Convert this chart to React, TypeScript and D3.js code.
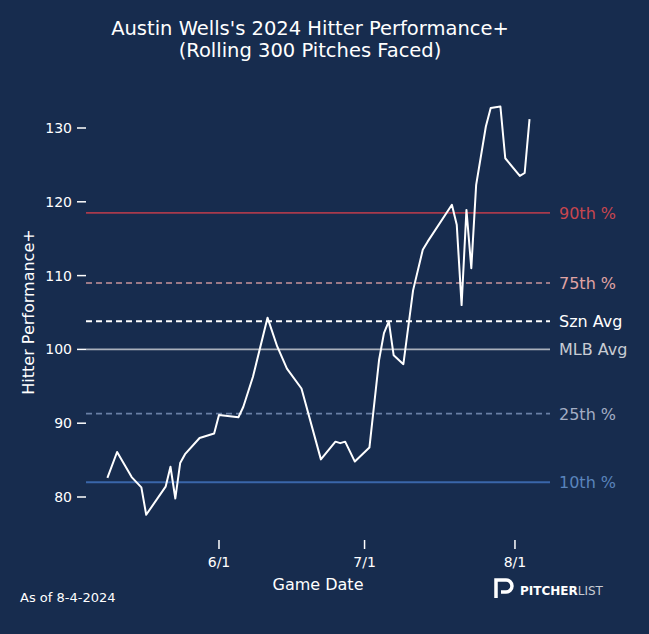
import React from "react";
import * as d3 from "d3";

// rolling values
const gameDates = [
  "2024-05-09", "2024-05-11", "2024-05-14", "2024-05-16", "2024-05-17", "2024-05-21",
  "2024-05-22", "2024-05-23", "2024-05-24", "2024-05-25", "2024-05-28", "2024-05-31",
  "2024-06-01", "2024-06-05", "2024-06-06", "2024-06-08", "2024-06-11", "2024-06-13",
  "2024-06-15", "2024-06-18", "2024-06-22", "2024-06-25", "2024-06-26", "2024-06-27",
  "2024-06-29", "2024-07-02", "2024-07-04", "2024-07-05", "2024-07-06", "2024-07-07",
  "2024-07-09", "2024-07-11", "2024-07-13", "2024-07-14", "2024-07-19", "2024-07-20",
  "2024-07-21", "2024-07-22", "2024-07-23", "2024-07-24", "2024-07-26", "2024-07-27",
  "2024-07-29", "2024-07-30", "2024-08-02", "2024-08-03", "2024-08-04",
];
const hitterPerf = [
  82.6, 86.1, 82.7, 81.3, 77.6, 81.4,
  84.1, 79.8, 84.6, 85.8, 88.0, 88.6,
  91.1, 90.8, 92.2, 96.3, 104.3, 100.4,
  97.4, 94.7, 85.1, 87.5, 87.3, 87.5,
  84.8, 86.7, 98.6, 102.2, 103.8, 99.2,
  98.0, 108.0, 113.5, 114.6, 119.6, 116.9,
  106.0, 118.9, 111.0, 122.3, 130.2, 132.7,
  132.9, 125.9, 123.5, 123.9, 131.2,
];

const refLabels = ["90th %", "75th %", "Szn Avg", "MLB Avg", "25th %", "10th %"];
const refValues = [118.5, 109.0, 103.8, 100.0, 91.3, 82.0];
const refStroke = ["#a83a4c", "#9c7a88", "#ffffff", "#aab0bb", "#6a80a6", "#3a66aa"];
const refText = ["#c8464f", "#e0a4a4", "#ffffff", "#c8ccd4", "#a4aec4", "#5a84bc"];
const refDash = ["", "6,4", "6,4", "", "6,4", ""];

const yTicks = [80, 90, 100, 110, 120, 130];
const xTicks = ["2024-06-01", "2024-07-01", "2024-08-01"];
const xTickLabels = ["6/1", "7/1", "8/1"];

const W = 649, H = 634;
const BG = "#172c4e";
const FONT = "DejaVu Sans, sans-serif";

export default function App() {
  const parse = d3.timeParse("%Y-%m-%d");
  const data = gameDates.map((d, i) => ({ date: parse(d) as Date, v: hitterPerf[i] }));

  const x = d3.scaleTime()
    .domain([new Date(2024, 4, 4, 14, 10), new Date(2024, 7, 8, 5, 17)])
    .range([86, 550]);
  const y = d3.scaleLinear().domain([80, 130]).range([497, 128]);

  const line = d3.line<{ date: Date; v: number }>()
    .x((d) => x(d.date))
    .y((d) => y(d.v));

  return (
    <svg width={W} height={H} style={{ position: "absolute", left: 0, top: 0, display: "block" }} fontFamily={FONT}>
      <rect width={W} height={H} fill={BG} />
      <text x={310} y={35} textAnchor="middle" fill="#fff" fontSize={19.5}>Austin Wells's 2024 Hitter Performance+</text>
      <text x={310} y={57} textAnchor="middle" fill="#fff" fontSize={19.5}>(Rolling 300 Pitches Faced)</text>

      {refValues.map((v, i) => (
        <g key={refLabels[i]}>
          <line x1={86} x2={550} y1={y(v)} y2={y(v)} stroke={refStroke[i]} strokeWidth={i === 2 ? 2 : 1.8}
            strokeDasharray={refDash[i] || undefined} />
          <text x={559} y={y(v) + 6} fill={refText[i]} fontSize={16}>{refLabels[i]}</text>
        </g>
      ))}

      {yTicks.map((t) => (
        <g key={t}>
          <line x1={77} x2={86} y1={y(t)} y2={y(t)} stroke="#fff" strokeWidth={1.5} />
          <text x={72} y={y(t) + 5} textAnchor="end" fill="#fff" fontSize={14}>{t}</text>
        </g>
      ))}
      {xTicks.map((t, i) => {
        const px = x(parse(t) as Date);
        return (
          <g key={t}>
            <line x1={px} x2={px} y1={540} y2={549} stroke="#fff" strokeWidth={1.5} />
            <text x={px} y={567} textAnchor="middle" fill="#fff" fontSize={14}>{xTickLabels[i]}</text>
          </g>
        );
      })}

      <path d={line(data) || ""} fill="none" stroke="#fff" strokeWidth={2} strokeLinejoin="round" />

      <text x={318} y={590} textAnchor="middle" fill="#fff" fontSize={16}>Game Date</text>
      <text transform="translate(34,312) rotate(-90)" textAnchor="middle" fill="#fff" fontSize={16}>Hitter Performance+</text>
      <text x={20} y={602} fill="#fff" fontSize={13}>As of 8-4-2024</text>

      <g>
        <path d="M496,598 V580 H506 A6,6 0 0 1 506,592 H501" fill="none" stroke="#fff" strokeWidth={3.5} />
        <text x={520} y={595} fill="#fff" fontSize={12} fontWeight="bold">PITCHER<tspan fontWeight="normal" fill="#c8ccd4">LIST</tspan></text>
      </g>
    </svg>
  );
}
